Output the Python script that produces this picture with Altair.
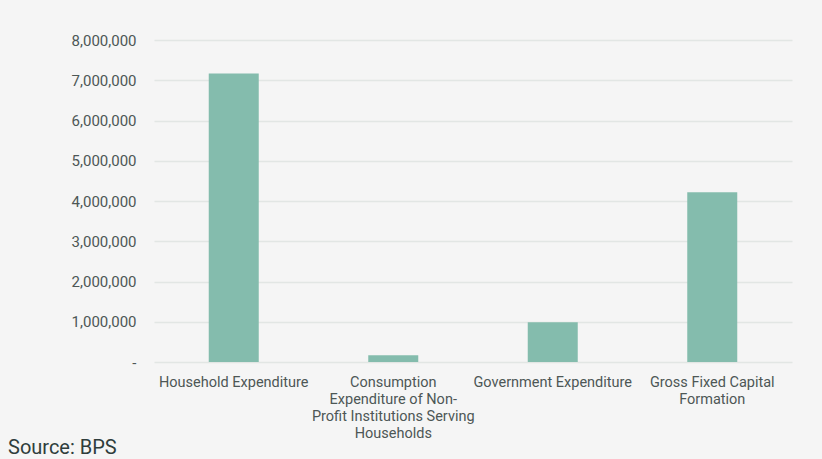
import altair as alt
import pandas as pd

categories = [
    "Household Expenditure",
    "Consumption Expenditure of Non-Profit Institutions Serving Households",
    "Government Expenditure",
    "Gross Fixed Capital Formation",
]
label_lines = [
    ["Household Expenditure"],
    ["Consumption", "Expenditure of Non-", "Profit Institutions Serving", "Households"],
    ["Government Expenditure"],
    ["Gross Fixed Capital", "Formation"],
]
values = [7170000, 170000, 990000, 4220000]
y_ticks = [0, 1000000, 2000000, 3000000, 4000000, 5000000, 6000000, 7000000, 8000000]
source_text = ["Source: BPS"]

df = pd.DataFrame({"category": categories, "value": values})
src = pd.DataFrame({"text": source_text})

expr_parts = []
for cat, lines in zip(categories, label_lines):
    arr = "[" + ",".join("'" + l + "'" for l in lines) + "]"
    expr_parts.append(f"datum.value == '{cat}' ? {arr}")
label_expr = " : ".join(expr_parts) + " : datum.label"

font = "Roboto"
text_color = "#4d5756"

bars = (
    alt.Chart(df)
    .mark_bar(color="#84bcad", size=50)
    .encode(
        x=alt.X(
            "category:N",
            sort=categories,
            scale=alt.Scale(paddingInner=0, paddingOuter=0),
            axis=alt.Axis(
                title=None,
                labelAngle=0,
                labelExpr=label_expr,
                labelFont=font,
                labelFontSize=14.5,
                labelColor=text_color,
                labelLineHeight=17.3,
                labelPadding=13,
                labelBaseline="top",
                ticks=False,
                domain=False,
                labelLimit=220,
            ),
        ),
        y=alt.Y(
            "value:Q",
            scale=alt.Scale(domain=[0, 8000000], nice=False),
            axis=alt.Axis(
                title=None,
                values=y_ticks,
                labelExpr="datum.value == 0 ? '-' : format(datum.value, ',')",
                labelFont=font,
                labelFontSize=15,
                labelColor=text_color,
                labelPadding=18,
                ticks=False,
                domain=False,
                grid=True,
                gridColor="#e2e6e4",
                gridWidth=1.5,
            ),
        ),
    )
)

source = (
    alt.Chart(src)
    .mark_text(
        align="left",
        baseline="alphabetic",
        font=font,
        fontSize=20,
        color="#2f3d3c",
    )
    .encode(text="text:N", x=alt.value(-146), y=alt.value(414))
)

chart = (
    alt.layer(bars, source)
    .properties(
        width=638,
        height=322,
        background="#f5f5f5",
        autosize=alt.AutoSizeParams(type="none"),
        padding={"left": 154, "top": 40, "right": 30, "bottom": 97},
    )
    .configure_view(stroke=None)
)

chart.save("out.html", embed_options={"renderer": "svg", "actions": False})
